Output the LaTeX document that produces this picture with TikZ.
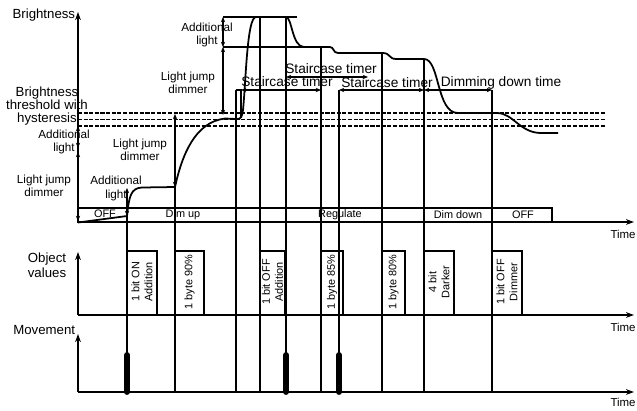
\documentclass[tikz,border=0pt]{standalone}
\usepackage{fontspec}
\setmainfont{Liberation Sans}
\usetikzlibrary{arrows.meta}

\begin{document}
\begin{tikzpicture}[
        x=0.03cm, y=-0.03cm,
        >={Stealth[length=2.4mm, width=1.7mm]},
        line width=1.5pt,
        axis/.style={->},
        dim/.style={<->, >={Stealth[length=1.6mm, width=1.3mm]}, line width=1.1pt},
        thres/.style={dash pattern=on 3.5pt off 1.3pt, line width=1.4pt},
        curve/.style={line width=1.5pt},
        move/.style={line width=5pt, line cap=round},
        axlabel/.style={font=\fontsize{11.3}{11}\selectfont, align=center, inner sep=0pt},
        note/.style={font=\fontsize{10}{11.5}\selectfont, align=center, inner sep=0pt},
        timer/.style={font=\fontsize{11.7}{13}\selectfont, inner sep=0pt},
        band/.style={font=\fontsize{9.3}{10}\selectfont, inner sep=0pt},
        objtext/.style={font=\fontsize{9.3}{11}\selectfont, align=center, rotate=90, inner sep=0pt},
        timelabel/.style={font=\fontsize{9.8}{10}\selectfont, anchor=east, inner sep=0pt}
    ]
    \useasboundingbox (0,0) rectangle (637,410);

    % Achsen
    \draw[axis] (78,222) -- (78,12);
    \draw[axis] (78,222) -- (634,222);
    \draw[axis] (78,315) -- (78,252);
    \draw[axis] (78,315) -- (634,315);
    \draw[axis] (78,392) -- (78,334);
    \draw[axis] (78,392) -- (634,392);

    % Achsenbeschriftungen
    \node[axlabel, anchor=east] (brightlbl) at (76,15) {Brightness};
    \node[axlabel] (objlbl) at (47,265) {Object\\[2pt]values};
    \node[axlabel, anchor=east] (movelbl) at (76,330) {Movement};
    \node[timelabel] (time1) at (636.5,234) {Time};
    \node[timelabel] (time2) at (636.5,327) {Time};
    \node[timelabel] (time3) at (636.5,402) {Time};

    % Helligkeitsschwelle mit Hysterese
    \foreach \y in {113,119.5,126}
        \draw[thres] (78,\y) -- (606,\y);
    \node[axlabel] (hystlbl) at (47,106) {Brightness\\threshold with\\hysteresis};

    % Betriebsarten
    \draw (78,208) rectangle (552,222);
    \node[band] (off1) at (105,214) {OFF};
    \node[band] (dimup) at (183,215) {Dim up};
    \node[band] (regulate) at (340,215) {Regulate};
    \node[band] (dimdown) at (458,215) {Dim down};
    \node[band] (off2) at (523,215) {OFF};

    % Ereignislinien
    \foreach \t/\top in {127/216, 175/187, 236/90, 260/17, 286/17, 321/47, 339/90, 382/53, 424/59, 492/90}
        \draw (\t,\top) -- (\t,392);
    \draw (236,90) -- (241,90) -- (241,118);

    % Helligkeitsverlauf
    \draw[curve] (78,222.5) -- (127,216)
        .. controls (129,196) and (131,188) .. (142,187.5) -- (175,187)
        .. controls (182,155) and (195,122) .. (225,118.5) -- (237,119)
        .. controls (241,119) and (242,117) .. (243,110)
        .. controls (246,80) and (247,17) .. (256,17) -- (286,17)
        .. controls (292,17) and (292,47) .. (304,47) -- (330,47)
        .. controls (334,47) and (333,53) .. (338,53) -- (383,53)
        .. controls (390,53) and (389,59) .. (396,59) -- (424,59)
        .. controls (440,59) and (436,113) .. (458,113) -- (497,113)
        .. controls (513,113) and (520,133) .. (541,133) -- (558,133);
    \draw (223,17) -- (297,17);
    \draw (223,47) -- (330,47);

    % Spruenge und Zusatzlicht
    \draw[dim] (78,126) -- (78,148);
    \draw[dim] (78,152) -- (78,221);
    \node[note] (addlbl1) at (64,142) {Additional\\light};
    \node[note] (jumplbl1) at (44,186) {Light jump\\dimmer};
    \draw[dim] (127,216) -- (127,188);
    \node[note] (addlbl2) at (116,188.5) {Additional\\light};
    \draw[dim] (175,187) -- (175,114);
    \node[note] (jumplbl2) at (140,150) {Light jump\\dimmer};
    \draw[dim] (223,115) -- (223,47);
    \draw[dim] (223,47) -- (223,17);
    \node[note] (jumplbl3) at (188,83) {Light jump\\dimmer};
    \node[note] (addlbl3) at (207,35) {Additional\\light};

    % Zeitglieder
    \draw[dim] (241,90) -- (321,90);
    \node[timer] (stair1) at (287,82) {Staircase timer};
    \draw[dim] (286,77) -- (368,77);
    \node[timer] (stair2) at (331,69) {Staircase timer};
    \draw[dim] (339,90) -- (424,90);
    \node[timer] (stair3) at (387,83) {Staircase timer};
    \draw[dim] (424,90) -- (492,90);
    \node[timer] (dimtime) at (501,83) {Dimming down time};

    % Objektwerte
    \foreach \l/\r/\txt [count=\i] in {127/157/{1 bit ON\\Addition}, 175/204/{1 byte 90\%},
            260/285/{1 bit OFF\\Addition}, 321/343/{1 byte 85\%}, 382/405/{1 byte 80\%},
            424/454/{4 bit\\Darker}, 492/522/{1 bit OFF\\Dimmer}} {
        \draw (\l,251) rectangle (\r,315);
        \node[objtext] (obj\i) at ({(\l+\r)/2},282) {\txt};
    }

    % Bewegung
    \foreach \t in {127,286,339}
        \draw[move] (\t,355) -- (\t,392);

\end{tikzpicture}
\end{document}
